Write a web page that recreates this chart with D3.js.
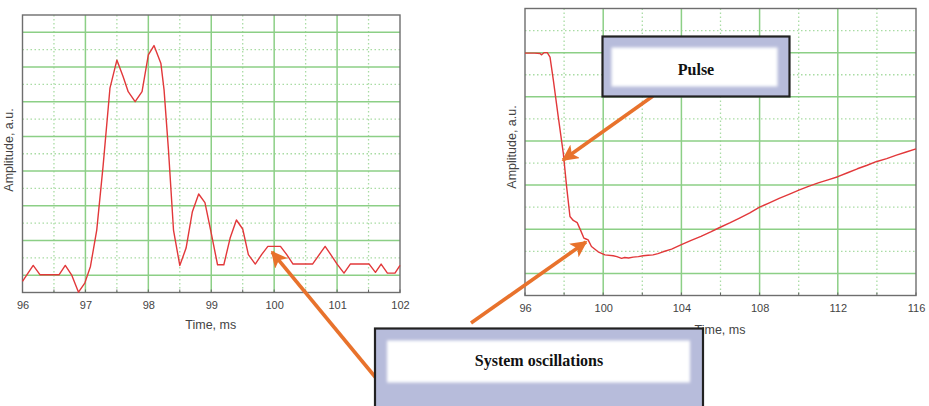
<!DOCTYPE html>
<html>
<head>
<meta charset="utf-8">
<script src="https://cdn.jsdelivr.net/npm/d3@7"></script>
<style>
  html, body { margin: 0; padding: 0; background: #fff; }
  svg { display: block; }
</style>
</head>
<body>
<svg id="chart" width="929" height="406"></svg>
<script>
// Left panel: short-window trace (time in ms, amplitude in a.u.)
const leftTime = [96.0, 96.17, 96.28, 96.58, 96.68, 96.78, 96.89, 96.99, 97.08, 97.18, 97.28, 97.39, 97.5, 97.6, 97.68, 97.79, 97.9, 98.0, 98.09, 98.2, 98.25, 98.32, 98.4, 98.5, 98.6, 98.7, 98.8, 98.9, 98.99, 99.1, 99.2, 99.3, 99.4, 99.5, 99.59, 99.7, 99.8, 99.9, 100.1, 100.2, 100.3, 100.61, 100.81, 100.9, 101.0, 101.11, 101.21, 101.51, 101.61, 101.7, 101.8, 101.92, 102.0];
const leftAmp  = [0.32, 0.78, 0.51, 0.51, 0.78, 0.51, 0.01, 0.27, 0.75, 1.8, 3.63, 5.89, 6.7, 6.22, 5.79, 5.5, 5.79, 6.85, 7.12, 6.6, 5.84, 4.11, 1.8, 0.78, 1.28, 2.33, 2.84, 2.59, 1.8, 0.8, 0.8, 1.57, 2.09, 1.83, 1.09, 0.82, 1.09, 1.33, 1.33, 1.09, 0.82, 0.82, 1.33, 1.09, 0.82, 0.56, 0.82, 0.82, 0.58, 0.82, 0.56, 0.56, 0.78];
const leftTicks = [96, 97, 98, 99, 100, 101, 102];
const leftMinorX = [96.5, 97.5, 98.5, 99.5, 100.5, 101.5];

// Right panel: long-window trace
const rightTime = [96.0, 96.5, 96.77, 96.85, 96.97, 97.14, 97.28, 97.45, 97.7, 97.96, 98.13, 98.3, 98.47, 98.67, 98.84, 99.01, 99.12, 99.23, 99.4, 99.74, 100.09, 100.51, 100.7, 100.94, 101.1, 101.3, 101.53, 101.8, 102.04, 102.3, 102.55, 102.8, 103.06, 103.5, 104.0, 104.5, 105.0, 105.5, 105.96, 106.5, 107.0, 107.5, 108.0, 108.5, 109.0, 109.5, 110.04, 110.5, 111.0, 111.5, 112.0, 112.5, 113.0, 113.5, 113.96, 114.5, 115.0, 115.5, 116.0];
const rightAmp  = [5.49, 5.49, 5.48, 5.45, 5.5, 5.5, 5.4, 4.88, 4.05, 3.22, 2.46, 1.79, 1.7, 1.65, 1.48, 1.3, 1.28, 1.26, 1.11, 0.99, 0.92, 0.9, 0.88, 0.84, 0.86, 0.85, 0.87, 0.88, 0.9, 0.91, 0.92, 0.95, 0.99, 1.05, 1.15, 1.25, 1.34, 1.44, 1.54, 1.65, 1.76, 1.87, 2.0, 2.1, 2.2, 2.29, 2.39, 2.47, 2.55, 2.62, 2.69, 2.78, 2.87, 2.95, 3.03, 3.1, 3.18, 3.25, 3.32];
const rightTicks = [96, 100, 104, 108, 112, 116];
const rightMinorX = [98, 102, 106, 110, 114];

// Horizontal grid levels (a.u.)
const leftMajorY = [0.5, 1.5, 2.5, 3.5, 4.5, 5.5, 6.5, 7.5];
const leftMinorY = [1, 2, 3, 4, 5, 6, 7];
const rightMajorY = [0.5, 1.5, 2.5, 3.5, 4.5, 5.5];
const rightMinorY = [1, 2, 3, 4, 5, 6];

const svg = d3.select("#chart");
const defs = svg.append("defs");
defs.append("filter").attr("id", "soft")
  .attr("x", "-20%").attr("y", "-40%").attr("width", "140%").attr("height", "180%")
  .append("feGaussianBlur").attr("stdDeviation", 1.8);
defs.append("marker").attr("id", "head")
  .attr("viewBox", "0 0 10 10").attr("refX", 9).attr("refY", 5)
  .attr("markerWidth", 4.6).attr("markerHeight", 4.6).attr("orient", "auto")
  .attr("markerUnits", "strokeWidth")
  .append("path").attr("d", "M0,0 L10,5 L0,10 L2.5,5 Z").attr("fill", "#e8722c");

const GREEN = "#8ccf86";
const FONT = "'Liberation Sans', Arial, sans-serif";

function panel(cfg) {
  const g = svg.append("g");
  const x = d3.scaleLinear().domain(cfg.xDomain).range([cfg.x0, cfg.x1]);
  const y = d3.scaleLinear().domain(cfg.yDomain).range([cfg.y1, cfg.y0]);

  // dotted minor grid
  g.selectAll(".mx").data(cfg.minorX).join("line")
    .attr("x1", d => x(d)).attr("x2", d => x(d)).attr("y1", cfg.y0).attr("y2", cfg.y1)
    .attr("stroke", "#a9dca4").attr("stroke-width", 1.3).attr("stroke-dasharray", "1.5,2.5");
  g.selectAll(".my").data(cfg.minorY).join("line")
    .attr("x1", cfg.x0).attr("x2", cfg.x1).attr("y1", d => y(d)).attr("y2", d => y(d))
    .attr("stroke", "#a9dca4").attr("stroke-width", 1.3).attr("stroke-dasharray", "1.5,2.5");
  // solid major grid
  g.selectAll(".Mx").data(cfg.ticks.slice(1, -1)).join("line")
    .attr("x1", d => x(d)).attr("x2", d => x(d)).attr("y1", cfg.y0).attr("y2", cfg.y1)
    .attr("stroke", GREEN).attr("stroke-width", 1.5);
  g.selectAll(".My").data(cfg.majorY).join("line")
    .attr("x1", cfg.x0).attr("x2", cfg.x1).attr("y1", d => y(d)).attr("y2", d => y(d))
    .attr("stroke", GREEN).attr("stroke-width", 1.5);

  // frame
  g.append("rect").attr("x", cfg.x0).attr("y", cfg.y0)
    .attr("width", cfg.x1 - cfg.x0).attr("height", cfg.y1 - cfg.y0)
    .attr("fill", "none").attr("stroke", "#6e6e6e").attr("stroke-width", 1.4);

  // bottom axis labels
  const ax = g.append("g").attr("transform", `translate(0,${cfg.y1})`)
    .call(d3.axisBottom(x).tickValues(cfg.ticks).tickSize(0).tickPadding(9).tickFormat(d3.format("d")));
  ax.select(".domain").remove();
  ax.selectAll("text").attr("font-family", FONT).attr("font-size", 11).attr("fill", "#444");
  // small inner ticks
  g.selectAll(".tk").data(cfg.ticks.concat(cfg.minorX)).join("line")
    .attr("x1", d => x(d)).attr("x2", d => x(d)).attr("y1", cfg.y1).attr("y2", cfg.y1 - 3)
    .attr("stroke", "#666").attr("stroke-width", 1);

  // trace
  const line = d3.line().x(d => x(d[0])).y(d => y(d[1]));
  g.append("path").datum(d3.zip(cfg.t, cfg.a)).attr("d", line)
    .attr("fill", "none").attr("stroke", "#e2383a").attr("stroke-width", 1.4)
    .attr("stroke-linejoin", "round");

  // axis titles
  g.append("text").attr("x", (cfg.x0 + cfg.x1) / 2 + cfg.titleDx).attr("y", cfg.titleY)
    .attr("text-anchor", "middle").attr("font-family", FONT).attr("font-size", 12.5)
    .attr("fill", "#444").text("Time, ms");
  g.append("text").attr("transform", `translate(${cfg.yLabelX},${cfg.yLabelY}) rotate(-90)`)
    .attr("text-anchor", "middle").attr("font-family", FONT).attr("font-size", 12.5)
    .attr("fill", "#444").text("Amplitude, a.u.");
  return { x, y };
}

panel({
  x0: 22.5, x1: 400, y0: 15, y1: 292.5, xDomain: [96, 102], yDomain: [0, 8],
  ticks: leftTicks, minorX: leftMinorX, majorY: leftMajorY, minorY: leftMinorY,
  t: leftTime, a: leftAmp, titleY: 329, titleDx: -0.5, yLabelX: 13, yLabelY: 150
});
panel({
  x0: 525, x1: 916, y0: 8.5, y1: 295.5, xDomain: [96, 116], yDomain: [0, 6.5],
  ticks: rightTicks, minorX: rightMinorX, majorY: rightMajorY, minorY: rightMinorY,
  t: rightTime, a: rightAmp, titleY: 334, titleDx: -0.5, yLabelX: 516, yLabelY: 147
});

// callout arrows
function arrow(x1, y1, x2, y2) {
  svg.append("line").attr("x1", x1).attr("y1", y1).attr("x2", x2).attr("y2", y2)
    .attr("stroke", "#e8722c").attr("stroke-width", 3.6).attr("marker-end", "url(#head)");
}
arrow(653, 96, 563, 160);
arrow(471, 323, 586, 242);
arrow(376, 378, 272, 252);

// callout boxes: lavender panel with a soft white inset
function callout(x, y, w, h, inset, label, ty) {
  const g = svg.append("g");
  g.append("rect").attr("x", x).attr("y", y).attr("width", w).attr("height", h).attr("fill", "#b7bcdb");
  g.append("rect").attr("x", x + inset[0]).attr("y", y + inset[1])
    .attr("width", inset[2]).attr("height", inset[3])
    .attr("fill", "#ffffff").attr("filter", "url(#soft)");
  g.append("rect").attr("x", x).attr("y", y).attr("width", w).attr("height", h)
    .attr("fill", "none").attr("stroke", "#222").attr("stroke-width", 2.2);
  g.append("text").attr("x", x + w / 2).attr("y", ty).attr("text-anchor", "middle")
    .attr("dominant-baseline", "central")
    .attr("font-family", "'Liberation Serif', 'Times New Roman', serif").attr("font-weight", "bold")
    .attr("font-size", 16).attr("fill", "#111").text(label);
}
callout(602.5, 36.5, 187, 60, [9, 11, 166, 39], "Pulse", 69);
callout(375, 328.5, 328, 90, [12, 12, 303, 42], "System oscillations", 360);
</script>
</body>
</html>
